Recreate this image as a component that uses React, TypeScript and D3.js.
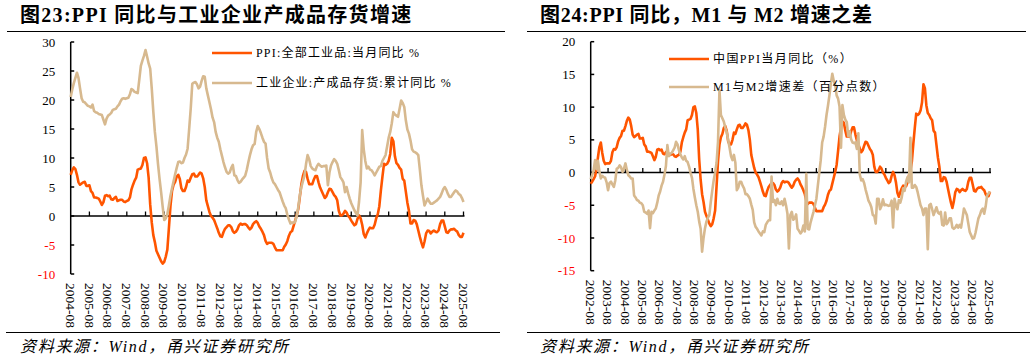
import React from "react";
import * as d3 from "d3";

// China PPI YoY (%), monthly, 2002-08 .. 2025-08
const ppi = [
  // 2002 Aug-Dec
  -1.7, -1.4, -1.0, -0.6, 0.5,
  // 2003
  2.3, 3.9, 4.6, 3.0, 1.8, 1.3, 1.4, 1.4, 1.4, 1.8, 3.1, 3.6,
  // 2004
  3.5, 3.9, 4.8, 5.3, 5.6, 6.4, 6.4, 7.1, 7.9, 8.4, 8.1, 7.1,
  // 2005
  5.8, 5.4, 5.6, 5.8, 5.9, 5.2, 5.2, 5.3, 4.3, 4.0, 3.2, 3.2,
  // 2006
  3.1, 3.0, 2.5, 1.9, 2.4, 3.5, 3.6, 3.4, 3.5, 2.9, 2.8, 3.1,
  // 2007
  3.3, 2.6, 2.7, 2.8, 2.8, 2.5, 2.4, 2.6, 2.7, 3.2, 4.6, 5.4,
  // 2008
  6.1, 6.6, 8.0, 8.1, 8.2, 8.8, 10.0, 10.1, 9.1, 6.6, 2.0, -1.1,
  // 2009
  -3.3, -4.5, -6.0, -6.6, -7.2, -7.8, -8.2, -7.9, -7.0, -5.8, -2.1, 1.7,
  // 2010
  4.3, 5.4, 5.9, 6.8, 7.1, 6.4, 4.8, 4.3, 4.3, 5.0, 6.1, 5.9,
  // 2011
  6.6, 7.2, 7.3, 6.8, 6.8, 7.1, 7.5, 7.3, 6.5, 5.0, 2.7, 1.7,
  // 2012
  0.7, 0.0, -0.3, -0.7, -1.4, -2.1, -2.9, -3.5, -3.6, -2.8, -2.2, -1.9,
  // 2013
  -1.6, -1.6, -1.9, -2.6, -2.9, -2.7, -2.3, -1.6, -1.3, -1.5, -1.4, -1.4,
  // 2014
  -1.6, -2.0, -2.3, -2.0, -1.4, -1.1, -0.9, -1.2, -1.8, -2.2, -2.7, -3.3,
  // 2015
  -4.3, -4.8, -4.6, -4.6, -4.6, -4.8, -5.4, -5.9, -5.9, -5.9, -5.9, -5.9,
  // 2016
  -5.3, -4.9, -4.3, -3.4, -2.8, -2.6, -1.7, -0.8, 0.1, 1.2, 3.3, 5.5,
  // 2017
  6.9, 7.8, 7.6, 6.4, 5.5, 5.5, 5.5, 6.3, 6.9, 6.9, 5.8, 4.9,
  // 2018
  4.3, 3.7, 3.1, 3.4, 4.1, 4.7, 4.6, 4.1, 3.6, 3.3, 2.7, 0.9,
  // 2019
  0.1, 0.1, 0.4, 0.9, 0.6, 0.0, -0.3, -0.8, -1.2, -1.6, -1.4, -0.5,
  // 2020
  0.1, -0.4, -1.5, -3.1, -3.7, -3.0, -2.4, -2.0, -2.1, -2.1, -1.5, -0.4,
  // 2021
  0.3, 1.7, 4.4, 6.8, 9.0, 8.8, 9.0, 9.5, 10.7, 13.5, 12.9, 10.3,
  // 2022
  9.1, 8.8, 8.3, 8.0, 6.4, 6.1, 4.2, 2.3, 0.9, -1.3, -1.3, -0.7,
  // 2023
  -0.8, -1.4, -2.5, -3.6, -4.6, -5.4, -4.4, -3.0, -2.5, -2.6, -3.0, -2.7,
  // 2024
  -2.5, -2.7, -2.8, -2.5, -1.4, -0.8, -0.8, -1.8, -2.8, -2.9, -2.5, -2.3,
  // 2025 Jan-Aug
  -2.3, -2.2, -2.5, -2.7, -3.3, -3.6, -3.6, -2.9,
];

// 工业企业:产成品存货:累计同比 (%), monthly, 2004-08 .. 2025-08
const inventory = [
  // 2004 Aug-Dec
  20.5, 21.8, 22.9, 23.8, 24.7,
  // 2005
  23.8, 22.0, 20.3, 19.7, 19.6, 19.3, 19.0, 18.9, 18.7, 19.2, 18.1, 17.9,
  // 2006
  17.8, 17.6, 17.5, 17.4, 16.6, 15.8, 16.8, 17.3, 17.5, 17.8, 18.3, 18.4,
  // 2007
  18.5, 18.9, 19.2, 19.8, 20.2, 20.3, 20.2, 20.3, 20.4, 21.0, 21.9, 21.7,
  // 2008
  21.4, 21.3, 21.2, 23.5, 25.9, 26.8, 27.6, 28.6, 27.5, 26.3, 25.4, 22.0,
  // 2009
  18.0, 14.5, 12.0, 9.0, 6.4, 4.1, 1.6, -0.7, -0.4, 0.3, 1.8, 3.5,
  // 2010
  4.8, 6.0, 7.2, 8.3, 9.3, 9.4, 9.1, 9.2, 10.0, 10.6, 11.6, 15.0,
  // 2011
  18.5, 22.8, 23.0, 23.1, 22.7, 22.0, 22.3, 23.3, 24.1, 24.0, 22.0, 20.8,
  // 2012
  19.6, 18.4, 17.0, 16.2, 14.5, 13.5, 12.8, 11.5, 10.4, 9.3, 8.4, 7.6,
  // 2013
  7.3, 7.5, 8.3, 8.8, 7.0, 6.9, 6.2, 5.7, 5.9, 6.3, 6.6, 7.0,
  // 2014
  8.0, 9.3, 10.5, 11.5, 12.2, 12.4, 14.5, 15.5, 15.0, 14.3, 13.5, 12.8,
  // 2015
  12.5, 10.0, 8.2, 7.5, 6.5, 5.8, 5.5, 5.0, 4.5, 4.1, 3.3, 2.5,
  // 2016
  1.8, 1.3, 0.2, -0.6, -1.3, -1.1, -1.2, -1.0, 0.0, 1.5, 3.6, 5.0,
  // 2017
  6.0, 7.0, 9.0, 10.5, 9.8, 8.6, 8.2, 8.0, 7.9, 8.6, 9.0, 8.7,
  // 2018
  8.5, 8.6, 8.6, 8.7, 5.3, 7.5, 8.7, 9.3, 9.8, 9.5, 9.0, 7.9,
  // 2019
  6.7, 6.3, 5.8, 4.1, 5.0, 3.9, 3.0, 2.2, 1.6, 1.0, 0.5, 0.1,
  // 2020
  2.5, 5.8, 14.8, 11.5, 9.5, 8.2, 8.5, 8.0, 7.9, 7.5, 7.0, 7.5,
  // 2021
  8.0, 8.5, 8.6, 9.5, 10.0, 10.5, 12.0, 13.5, 14.5, 16.0, 17.9, 17.5,
  // 2022
  17.3, 17.1, 18.5, 19.9, 19.5, 18.8, 16.5, 14.9, 14.2, 13.0, 11.5, 11.1,
  // 2023
  11.0, 10.8, 10.5, 8.0, 5.3, 3.5, 1.8, 2.4, 3.0, 2.5, 2.1, 2.1,
  // 2024
  2.3, 2.5, 2.7, 3.0, 3.3, 3.9, 4.6, 5.0, 4.5, 3.8, 3.3, 3.3,
  // 2025 Jan-Aug
  3.7, 4.1, 4.4, 4.2, 3.8, 3.6, 3.1, 2.4,
];

// M1与M2增速差 (百分点), monthly, 2002-08 .. 2025-08
const m1m2 = [
  // 2002 Aug-Dec
  -1.0, -0.4, 0.3, 1.9, 0.5,
  // 2003
  1.8, 0.2, -0.9, -0.5, -0.7, -0.8, -1.5, -2.7, -1.6, -1.4, -1.8, -2.2,
  // 2004
  -1.2, 0.6, 0.7, 1.1, 0.8, 0.1, 0.6, 1.4, 0.4, -0.4, -0.6, -0.9,
  // 2005
  -0.9, -3.5, -3.8, -4.2, -4.3, -4.6, -4.7, -5.0, -6.0, -6.1, -6.3, -5.8,
  // 2006
  -8.5, -6.0, -6.2, -5.8, -5.5, -4.6, -3.5, -2.9, -2.0, -1.4, -0.3, 1.0,
  // 2007
  4.2, 2.5, 2.9, 3.0, 3.4, 3.8, 4.7, 4.3, 3.4, 2.8, 2.3, 2.0,
  // 2008
  2.5, 1.8, 1.6, 0.9, 0.0, -0.8, -2.5, -3.8, -5.0, -6.0, -7.5, -8.6,
  // 2009
  -12.1, -10.0, -8.5, -7.5, -6.9, -6.5, -4.5, -2.8, -1.2, 0.0, 1.5, 4.7,
  // 2010
  12.6, 8.8, 8.3, 7.8, 6.9, 6.2, 5.0, 3.8, 2.5, 1.9, 2.7, 1.5,
  // 2011
  -2.7, -2.3, -1.4, -1.4, -2.0, -2.4, -3.3, -3.3, -3.6, -4.0, -4.9, -5.7,
  // 2012
  -7.6, -8.3, -8.6, -9.0, -9.3, -9.6, -9.0, -9.1, -8.0, -7.6, -7.3, -7.3,
  // 2013
  -0.6, -4.5, -4.2, -5.0, -4.0, -4.7, -4.8, -4.4, -5.0, -4.0, -5.0, -6.3,
  // 2014
  -11.6, -6.5, -6.0, -7.2, -7.0, -6.4, -8.6, -8.9, -9.3, -9.0, -8.1, -9.0,
  // 2015
  -0.2, -8.6, -8.7, -7.6, -6.8, -6.0, -5.0, -4.0, -2.0, 0.0, 1.9, 4.6,
  // 2016
  5.5, 7.0, 8.8, 10.2, 11.8, 13.6, 15.1, 14.0, 13.4, 11.8, 11.3, 10.1,
  // 2017
  3.8, 10.3, 8.8, 8.1, 7.7, 5.6, 6.3, 5.1, 4.6, 4.5, 4.6, 3.6,
  // 2018
  6.0, -0.3, -1.2, -1.0, -1.6, -2.6, -3.4, -4.3, -4.7, -5.3, -6.5, -6.6,
  // 2019
  -7.8, -4.0, -4.0, -5.6, -5.1, -4.1, -5.0, -4.9, -5.0, -5.1, -5.0, -4.3,
  // 2020
  -8.4, -4.0, -5.0, -5.6, -4.2, -4.6, -3.8, -2.4, -2.8, -1.4, -0.7, -1.5,
  // 2021
  5.3, -2.3, -2.3, -1.9, -2.2, -3.0, -4.0, -5.0, -5.5, -6.5, -5.5, -5.5,
  // 2022
  -11.7, -5.0, -4.8, -5.6, -6.5, -5.9, -5.3, -6.1, -6.3, -6.0, -8.0, -8.1,
  // 2023
  -6.1, -7.9, -7.6, -7.0, -7.0, -8.4, -8.6, -8.4, -8.0, -8.4, -8.0, -8.4,
  // 2024
  -7.0, -5.5, -6.0, -6.5, -7.8, -9.1, -9.6, -10.1, -10.0, -9.2, -8.1, -7.0,
  // 2025 Jan-Aug
  -6.5, -5.8, -5.5, -6.3, -5.2, -3.5, -3.2, -2.9,
];

const leftTickLabels = [
  "2004-08", "2005-08", "2006-08", "2007-08", "2008-08", "2009-08", "2010-08",
  "2011-08", "2012-08", "2013-08", "2014-08", "2015-08", "2016-08", "2017-08",
  "2018-08", "2019-08", "2020-08", "2021-08", "2022-08", "2023-08", "2024-08",
  "2025-08",
];
const rightTickLabels = [
  "2002-08", "2003-08", "2004-08", "2005-08", "2006-08", "2007-08", "2008-08",
  "2009-08", "2010-08", "2011-08", "2012-08", "2013-08", "2014-08", "2015-08",
  "2016-08", "2017-08", "2018-08", "2019-08", "2020-08", "2021-08", "2022-08",
  "2023-08", "2024-08", "2025-08",
];
const leftYTicks = [30, 25, 20, 15, 10, 5, 0, -5, -10];
const rightYTicks = [20, 15, 10, 5, 0, -5, -10, -15];

const ORANGE = "#FF5500";
const BEIGE = "#D7B98F";
const SERIF = "'Liberation Serif','Times New Roman','Noto Sans CJK SC',serif";
const CJK = "'Liberation Serif','Noto Sans CJK SC',serif";

type PanelProps = {
  title: string;
  titleSpacing: number;
  lineX1: number;
  lineX2: number;
  titleX: number;
  axisX: number;
  axisXEnd: number;
  yTop: number;
  yBot: number;
  yDomain: [number, number];
  yTicks: number[];
  tickLabels: string[];
  orange: number[];
  beige: number[];
  legendLineX: number;
  legendY: [number, number];
  legendTexts: [string, string];
  legendSpacing: number;
  bottomX1: number;
  bottomX2: number;
};

function Panel(p: PanelProps) {
  const nMonths = (p.tickLabels.length - 1) * 12;
  const x = d3.scaleLinear().domain([0, nMonths]).range([p.axisX, p.axisXEnd]);
  const y = d3.scaleLinear().domain(p.yDomain).range([p.yBot, p.yTop]);
  const line = d3
    .line<number>()
    .x((_, i) => x(i))
    .y((d) => y(d));
  const y0 = y(0);
  return (
    <g>
      <text
        x={p.titleX}
        y={22}
        fontFamily={CJK}
        fontWeight="bold"
        fontSize={20}
        letterSpacing={p.titleSpacing}
        fill="#000"
      >
        {p.title}
      </text>
      <line x1={p.lineX1} x2={p.lineX2} y1={31.5} y2={31.5} stroke="#000" strokeWidth={1.2} />
      {/* y axis */}
      <line x1={p.axisX} x2={p.axisX} y1={p.yTop} y2={p.yBot} stroke="#000" strokeWidth={1.5} />
      {p.yTicks.map((t) => (
        <g key={t}>
          <line x1={p.axisX} x2={p.axisX + 3.5} y1={y(t)} y2={y(t)} stroke="#000" strokeWidth={1.5} />
          <text
            x={p.axisX - 15.5}
            y={y(t)}
            dy="0.35em"
            textAnchor="end"
            fontFamily={SERIF}
            fontSize={13}
            fill={t < 0 ? "#FF0000" : "#000"}
          >
            {t}
          </text>
        </g>
      ))}
      {/* zero line with ticks */}
      <line x1={p.axisX} x2={p.axisXEnd + 1} y1={y0} y2={y0} stroke="#000" strokeWidth={1.5} />
      {p.tickLabels.map((lab, i) => (
        <g key={lab}>
          {i > 0 && (
            <line x1={x(i * 12)} x2={x(i * 12)} y1={y0} y2={y0 - 4.5} stroke="#000" strokeWidth={1.3} />
          )}
          <text
            transform={`translate(${x(i * 12)},${p.yBot + 9}) rotate(90)`}
            dy="0.35em"
            textAnchor="start"
            fontFamily={SERIF}
            fontSize={13.5}
            fill="#000"
          >
            {lab}
          </text>
        </g>
      ))}
      {/* series */}
      <path d={line(p.orange) || ""} fill="none" stroke={ORANGE} strokeWidth={2.6} strokeLinejoin="round" />
      <path d={line(p.beige) || ""} fill="none" stroke={BEIGE} strokeWidth={2.6} strokeLinejoin="round" />
      {/* legend */}
      {[ORANGE, BEIGE].map((c, k) => (
        <g key={c}>
          <line
            x1={p.legendLineX}
            x2={p.legendLineX + 40}
            y1={p.legendY[k]}
            y2={p.legendY[k]}
            stroke={c}
            strokeWidth={2.6}
          />
          <text
            x={p.legendLineX + 44}
            y={p.legendY[k]}
            dy="0.35em"
            fontFamily={SERIF}
            fontSize={12}
            letterSpacing={p.legendSpacing}
            fill="#000"
          >
            {p.legendTexts[k]}
          </text>
        </g>
      ))}
      <line x1={p.bottomX1} x2={p.bottomX2} y1={332.5} y2={332.5} stroke="#000" strokeWidth={1.2} />
      <text
        x={p.titleX}
        y={352}
        fontFamily={CJK}
        fontStyle="italic"
        fontSize={16}
        letterSpacing={1.7}
        fill="#000"
      >
        资料来源：Wind，甬兴证券研究所
      </text>
    </g>
  );
}

export default function App() {
  const leftPpi = ppi.slice(24);
  return (
    <svg
      width={1032}
      height={360}
      style={{ position: "absolute", left: 0, top: 0, background: "#fff" }}
    >
      <rect width={1032} height={360} fill="#fff" />
      <Panel
        title="图23:PPI 同比与工业企业产成品存货增速"
        titleSpacing={1.3}
        titleX={20}
        lineX1={7}
        lineX2={505}
        axisX={70.7}
        axisXEnd={463.5}
        yTop={42}
        yBot={274}
        yDomain={[-10, 30]}
        yTicks={leftYTicks}
        tickLabels={leftTickLabels}
        orange={leftPpi}
        beige={inventory}
        legendLineX={212}
        legendY={[53, 83]}
        legendTexts={["PPI:全部工业品:当月同比 %", "工业企业:产成品存货:累计同比 %"]}
        legendSpacing={1.2}
        bottomX1={6}
        bottomX2={500}
      />
      <Panel
        title="图24:PPI 同比，M1 与 M2 增速之差"
        titleSpacing={0.7}
        titleX={540}
        lineX1={527}
        lineX2={1026}
        axisX={590.7}
        axisXEnd={990}
        yTop={41.7}
        yBot={270.7}
        yDomain={[-15, 20]}
        yTicks={rightYTicks}
        tickLabels={rightTickLabels}
        orange={ppi}
        beige={m1m2}
        legendLineX={669}
        legendY={[59, 87]}
        legendTexts={["中国PPI当月同比（%）", "M1与M2增速差（百分点数）"]}
        legendSpacing={1.4}
        bottomX1={527}
        bottomX2={1030}
      />
    </svg>
  );
}
